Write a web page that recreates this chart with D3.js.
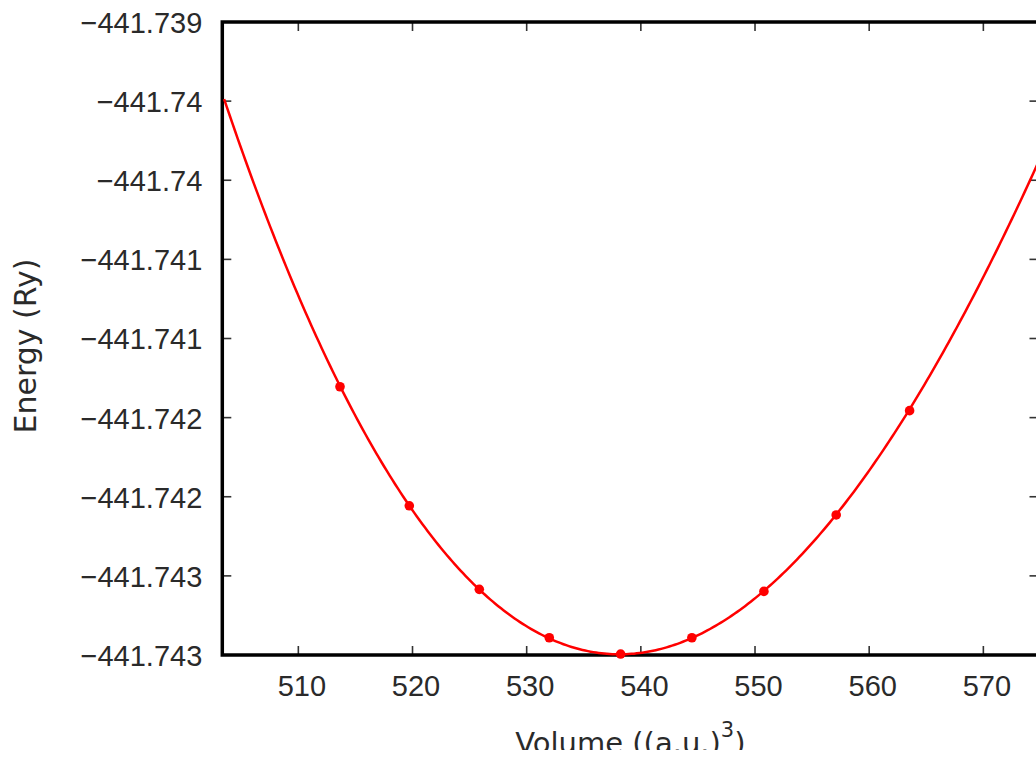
<!DOCTYPE html>
<html>
<head>
<meta charset="utf-8">
<script src="https://cdn.jsdelivr.net/npm/d3@7"></script>
<style>
  html, body { margin: 0; padding: 0; background: #fff; overflow: hidden; }
  svg { display: block; }
</style>
</head>
<body>
<svg id="chart" width="1036" height="759"></svg>
<script>
// Data points (volume in (a.u.)^3, energy in Ry)
const volumes  = [513.65, 519.72, 525.85, 531.98, 538.23, 544.47, 550.78, 557.11, 563.54];
const energies = [-441.741305, -441.742057, -441.742585, -441.742891, -441.742994,
                  -441.742891, -441.742598, -441.742115, -441.741456];

// Fitted curve samples (edges) plus data points
const fitVolumes  = [503.5, 506.06, 508.69,
                     513.65, 519.72, 525.85, 531.98, 538.23, 544.47, 550.78, 557.11, 563.54,
                     567.07, 570.52, 574.09, 574.83];
const fitEnergies = [-441.73949, -441.74000, -441.74051,
                     -441.741305, -441.742057, -441.742585, -441.742891, -441.742994,
                     -441.742891, -441.742598, -441.742115, -441.741456,
                     -441.74102, -441.74050, -441.74000, -441.73990];

// Axis ticks
const xTickValues = [510, 520, 530, 540, 550, 560, 570];
const xTickLabels = ["510", "520", "530", "540", "550", "560", "570"];
const yTickValues = [-441.743, -441.7425, -441.742, -441.7415, -441.741, -441.7405, -441.740, -441.7395, -441.739];
const yTickLabels = ["\u2212441.743", "\u2212441.743", "\u2212441.742", "\u2212441.742", "\u2212441.741",
                     "\u2212441.741", "\u2212441.74", "\u2212441.74", "\u2212441.739"];

const xDomain = [503.34, 574.83];
const yDomain = [-441.743, -441.739];

const svg = d3.select("#chart");
const L = 222.3, R = 1038.5, T = 22, B = 655;

const x = d3.scaleLinear().domain(xDomain).range([L, R]);
const y = d3.scaleLinear().domain(yDomain).range([B, T]);

const tickFont = "'Liberation Sans', Arial, sans-serif";
const tickSize = 29;

// Tick marks (inward, all four sides)
const tickG = svg.append("g").attr("stroke", "#333").attr("stroke-width", 1.6);
xTickValues.forEach(v => {
  tickG.append("line").attr("x1", x(v)).attr("x2", x(v)).attr("y1", B).attr("y2", B - 9);
  tickG.append("line").attr("x1", x(v)).attr("x2", x(v)).attr("y1", T).attr("y2", T + 9);
});
yTickValues.forEach(v => {
  tickG.append("line").attr("x1", L).attr("x2", L + 9).attr("y1", y(v)).attr("y2", y(v));
  tickG.append("line").attr("x1", R).attr("x2", R - 9).attr("y1", y(v)).attr("y2", y(v));
});

// Axes labels via d3 axes (ticks hidden, only text)
const xAxis = d3.axisBottom(x).tickValues(xTickValues)
  .tickFormat((d, i) => xTickLabels[i]).tickSize(0).tickPadding(20);
const gx = svg.append("g").attr("transform", `translate(0,${B})`).call(xAxis);
gx.select(".domain").remove();
gx.selectAll("text").attr("font-family", tickFont).attr("font-size", tickSize)
  .attr("fill", "#2a2a2a").attr("dx", 3);

const yAxis = d3.axisLeft(y).tickValues(yTickValues)
  .tickFormat((d, i) => yTickLabels[i]).tickSize(0).tickPadding(20);
const gy = svg.append("g").attr("transform", `translate(${L},0)`).call(yAxis);
gy.select(".domain").remove();
gy.selectAll("text").attr("font-family", tickFont).attr("font-size", tickSize)
  .attr("fill", "#2a2a2a").attr("dy", "0.36em");

// Border
svg.append("rect").attr("x", L).attr("y", T).attr("width", R - L).attr("height", B - T)
  .attr("fill", "none").attr("stroke", "#000").attr("stroke-width", 3.5);

// Fitted curve: least-squares quartic through the read samples (like the original fit)
function polyFit(xs, ys, deg) {
  const n = deg + 1;
  const A = Array.from({length: n}, () => new Array(n + 1).fill(0));
  xs.forEach((xv, k) => {
    for (let i = 0; i < n; i++) {
      for (let j = 0; j < n; j++) A[i][j] += Math.pow(xv, i + j);
      A[i][n] += ys[k] * Math.pow(xv, i);
    }
  });
  for (let c = 0; c < n; c++) {
    let p = c;
    for (let r = c + 1; r < n; r++) if (Math.abs(A[r][c]) > Math.abs(A[p][c])) p = r;
    [A[c], A[p]] = [A[p], A[c]];
    for (let r = 0; r < n; r++) {
      if (r === c) continue;
      const f = A[r][c] / A[c][c];
      for (let j = c; j <= n; j++) A[r][j] -= f * A[c][j];
    }
  }
  return A.map((row, i) => row[n] / row[i]);
}
const v0 = 538, vs = 35, e0 = -441.743, es = 1e4;
const tX = fitVolumes.map(v => (v - v0) / vs);
const tY = fitEnergies.map(e => (e - e0) * es);
const coef = polyFit(tX, tY, 4);
const evalFit = v => {
  const t = (v - v0) / vs;
  return coef.reduce((s, c, i) => s + c * Math.pow(t, i), 0) / es + e0;
};
const vStart = fitVolumes[0], vEnd = fitVolumes[fitVolumes.length - 1];
const fitData = d3.range(0, 301).map(i => {
  const v = vStart + (vEnd - vStart) * i / 300;
  return [v, evalFit(v)];
});
const line = d3.line().x(d => x(d[0])).y(d => y(d[1]));
svg.append("path").datum(fitData).attr("d", line)
  .attr("fill", "none").attr("stroke", "#ff0000").attr("stroke-width", 2.5);

// Data points
svg.append("g").selectAll("circle").data(volumes.map((v, i) => [v, energies[i]]))
  .join("circle").attr("cx", d => x(d[0])).attr("cy", d => y(d[1])).attr("r", 4.8)
  .attr("fill", "#ff0000");

// Axis titles
const titleFont = "'DejaVu Sans', sans-serif";
svg.append("text").attr("transform", "translate(36,346) rotate(-90)")
  .attr("text-anchor", "middle").attr("font-family", titleFont).attr("font-size", 30)
  .attr("fill", "#2a2a2a").text("Energy (Ry)");

const xt = svg.append("text").attr("x", (L + R) / 2).attr("y", 753)
  .attr("text-anchor", "middle").attr("font-family", titleFont).attr("font-size", 29)
  .attr("fill", "#2a2a2a");
xt.append("tspan").text("Volume ((a.u.)");
xt.append("tspan").attr("dy", -16).attr("font-size", 21).text("3");
xt.append("tspan").attr("dy", 16).text(")");

// The reference image is cut just below the axis title
svg.append("rect").attr("x", 0).attr("y", 750).attr("width", 1036).attr("height", 9).attr("fill", "#fff");
</script>
</body>
</html>
